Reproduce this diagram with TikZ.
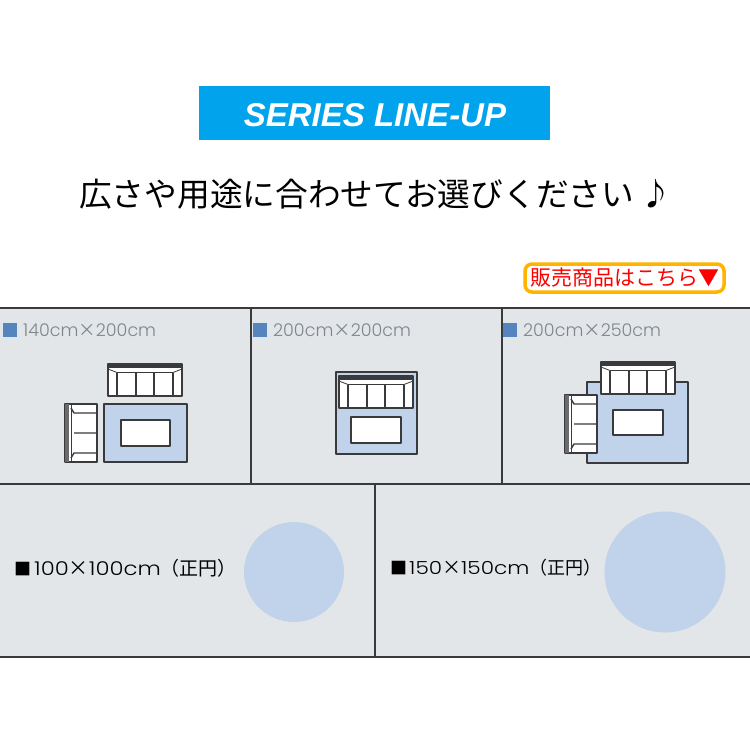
\documentclass[tikz,border=0pt]{standalone}
\usepackage{fontspec}
\usepackage{tikz}
\setmainfont{Noto Sans CJK JP}
\newfontfamily\latinfont{Poppins Light}
\newfontfamily\widefont[FakeStretch=1.2]{Poppins Light}
\definecolor{panelgray}{HTML}{E2E6E9}
\definecolor{rugblue}{HTML}{C0D3EA}
\definecolor{markblue}{HTML}{5585BF}
\definecolor{bannerblue}{HTML}{00A3EC}
\definecolor{linedark}{HTML}{3A3A3C}
\definecolor{sizegray}{HTML}{7F858B}
\definecolor{buttonorange}{HTML}{FFB400}

\begin{document}
\begin{tikzpicture}[x=1pt, y=-1pt, line join=round,
  rug/.style={draw=linedark, fill=rugblue, line width=1.4pt},
  rugtable/.style={draw=linedark, fill=white, line width=1.4pt},
  sizelabel/.style={anchor=west, inner sep=0pt, text=sizegray, font=\latinfont\fontsize{17.5}{20}\selectfont},
  roundlabel/.style={anchor=west, inner sep=0pt, text=black, font=\widefont\fontsize{19}{22}\selectfont},
  pics/sofa/.style={code={
    \draw[draw=linedark, fill=white, line width=1.4pt] (0,0) rectangle (74,32);
    \fill[linedark] (0,0) rectangle (74,3.5);
    \draw[linedark, line width=.8pt] (0,5) -- (9,8.5) -- (65,8.5) -- (74,5);
    \draw[linedark, line width=1.6pt] (9,8.5) -- (9,32) (65,8.5) -- (65,32);
    \draw[linedark, line width=1.4pt] (28,8.5) -- (28,32) (46,8.5) -- (46,32);
  }},
  pics/sidesofa/.style={code={
    \draw[draw=linedark, fill=white, line width=1.4pt] (0,0) rectangle (32,58);
    \fill[linedark!75] (0,0) rectangle (4,58);
    \draw[linedark, line width=.8pt] (6,0) -- (6,58);
    \draw[linedark, line width=1.4pt] (6,4) -- (9,9) -- (32,9) (6,54) -- (9,49) -- (32,49) (9,29) -- (32,29);
  }}]
\useasboundingbox (0,0) rectangle (750,750);
\fill[white] (0,0) rectangle (750,750);

% title
\node[fill=bannerblue, minimum width=351pt, minimum height=54pt, inner sep=0pt] (banner) at (374.5,113) {};
\node[text=white, inner sep=0pt, font=\fontspec{Liberation Sans Bold Italic}\fontsize{33}{36}\selectfont] (series) at (375,115) {SERIES LINE-UP};
\node[anchor=west, inner sep=0pt, font=\fontsize{32.7}{36}\selectfont] (headline) at (79,194) {広さや用途に合わせてお選びください};
\node[inner sep=0pt, font=\fontsize{31}{34}\selectfont] (note) at (656,194) {♪};

% button
\node[draw=buttonorange, fill=white, line width=3.5pt, rounded corners=7pt, minimum width=199pt, minimum height=28pt, inner sep=0pt] (button) at (624.5,278) {};
\node[text=red, inner sep=0pt, font=\fontsize{21}{24}\selectfont] (buttontext) at (button) {販売商品はこちら▼};

% panels
\fill[panelgray] (0,308) rectangle (750,657);
\draw[linedark, line width=1.3pt] (0,308) -- (750,308) (0,484) -- (750,484) (0,657) -- (750,657);
\draw[linedark, line width=1.3pt] (251,308) -- (251,484) (502,308) -- (502,484) (375,484) -- (375,657);

% 140 x 200
\node[fill=markblue, minimum size=14pt, inner sep=0pt] (mark1) at (10,330) {};
\node[sizelabel] (size1) at (23,330) {140cm{\rmfamily ×}200cm};
\pic at (108,364) {sofa};
\pic at (65,404) {sidesofa};
\draw[rug] (104,404) rectangle (187,462);
\draw[rugtable] (121,420) rectangle (170,446);

% 200 x 200
\node[fill=markblue, minimum size=14pt, inner sep=0pt] (mark2) at (260,330) {};
\node[sizelabel] (size2) at (273,330) {200cm{\rmfamily ×}200cm};
\draw[rug] (336,372) rectangle (417,454);
\pic at (339,376) {sofa};
\draw[rugtable] (351,417) rectangle (401,443);

% 200 x 250
\node[fill=markblue, minimum size=14pt, inner sep=0pt] (mark3) at (510,330) {};
\node[sizelabel] (size3) at (523,330) {200cm{\rmfamily ×}250cm};
\draw[rug] (587,382) rectangle (688,463);
\pic at (601,362) {sofa};
\pic at (565,395) {sidesofa};
\draw[rugtable] (613,410) rectangle (663,435);

% round rugs
\node[roundlabel] (round1) at (14,568) {{\rmfamily\fontsize{17}{20}\selectfont ■}\hspace{3pt}100{\rmfamily\fontsize{20}{20}\selectfont ×}100cm{\rmfamily\fontsize{19}{20}\selectfont （正円）}};
\node[fill=rugblue, circle, minimum size=100pt, inner sep=0pt] (circle1) at (294,572) {};
\node[roundlabel, font=\widefont\fontsize{18}{22}\selectfont] (round2) at (390,568) {{\rmfamily\fontsize{17}{20}\selectfont ■}\hspace{2pt}150{\rmfamily\fontsize{19}{20}\selectfont ×}150cm{\rmfamily\fontsize{18}{20}\selectfont （正円）}};
\node[fill=rugblue, circle, minimum size=121pt, inner sep=0pt] (circle2) at (665,572) {};
\end{tikzpicture}
\end{document}
